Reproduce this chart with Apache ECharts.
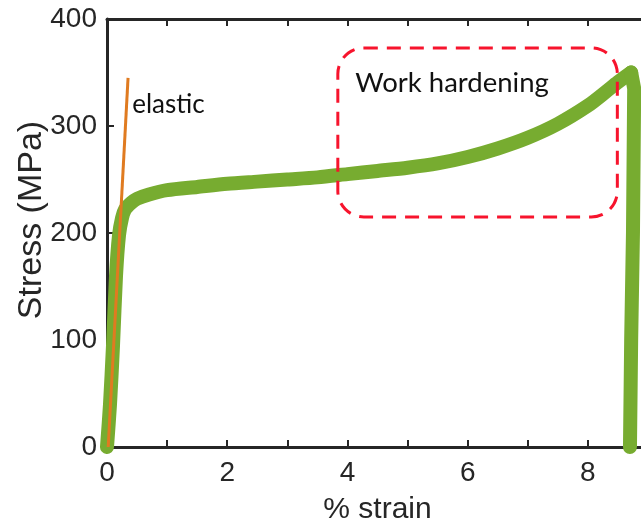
<!DOCTYPE html>
<html>
<head>
<meta charset="utf-8">
<script src="https://cdn.jsdelivr.net/npm/echarts@6/dist/echarts.min.js"></script>
<style>
  html, body { margin: 0; padding: 0; background: #fff; }
  #chart { width: 641px; height: 531px; }
</style>
</head>
<body>
<div id="chart"></div>
<script>
// Stress-strain curve (strain in %, stress in MPa)
const strain = [0, 0.05, 0.1, 0.15, 0.2, 0.25, 0.3, 0.4, 0.5, 0.7, 1.0, 1.5, 2.0, 2.5, 3.0, 3.5, 4.0, 4.5, 5.0, 5.5, 6.0, 6.5, 7.0, 7.5, 8.0, 8.3, 8.5, 8.72, 8.77, 8.75, 8.72, 8.70];
const stress = [0, 40, 95, 160, 198, 214, 222, 228, 232, 236, 240, 243, 246, 248, 250, 252, 255, 258, 261, 265, 271, 279, 289, 302, 319, 332, 341, 350, 335, 200, 100, 0];
// index of the peak (ultimate stress), where loading ends and the fracture drop begins
const peakIndex = 27;

// Linear elastic reference line
const elasticStrain = [0.02, 0.35];
const elasticStress = [0, 345];

// Axis ticks
const xTickLabels = [0, 2, 4, 6, 8];
const yTickLabels = [0, 100, 200, 300, 400];

// Work-hardening region outline (data units)
const boxStrain = [3.84, 8.49];
const boxStress = [215, 373];

const ink = '#262626';
const green = '#77ac30';
const axisFont = 'Liberation Sans, Arial, Helvetica, sans-serif';
const noteFont = 'Lato, "Open Sans", sans-serif';

const chart = echarts.init(document.getElementById('chart'));

const xBase = {
  type: 'value', min: 0, max: 9, interval: 1,
  axisLine: { show: true, onZero: false, lineStyle: { color: ink, width: 3 } },
  axisTick: { show: true, inside: true, length: 7, lineStyle: { color: ink, width: 2 } },
  splitLine: { show: false }
};

const points = strain.map((x, i) => [x, stress[i]]);
const greenLine = { color: green, width: 14, cap: 'round', join: 'round' };

chart.setOption({
  animation: false,
  grid: { left: 107, width: 541, top: 19, height: 428, containLabel: false, outerBoundsMode: 'none' },
  xAxis: [
    Object.assign({}, xBase, {
      position: 'bottom',
      name: '% strain', nameLocation: 'middle', nameGap: 48,
      nameTextStyle: { color: ink, fontSize: 30, fontFamily: axisFont },
      axisLabel: {
        color: ink, fontSize: 28, fontFamily: axisFont, margin: 12,
        formatter: v => (xTickLabels.indexOf(v) >= 0 ? String(v) : '')
      }
    }),
    Object.assign({}, xBase, { position: 'top', axisLabel: { show: false } })
  ],
  yAxis: [{
    type: 'value', min: 0, max: 400, interval: 100,
    name: 'Stress (MPa)', nameLocation: 'middle', nameGap: 58, nameMoveOverlap: false,
    nameTextStyle: { color: ink, fontSize: 34, fontFamily: axisFont, padding: [0, 0, 0, 26] },
    axisLine: { show: true, lineStyle: { color: ink, width: 3 } },
    axisTick: { show: true, inside: true, length: 7, lineStyle: { color: ink, width: 2 } },
    axisLabel: {
      color: ink, fontSize: 28, fontFamily: axisFont, margin: 10,
      formatter: v => (yTickLabels.indexOf(v) >= 0 ? String(v) : '')
    },
    splitLine: { show: false }
  }],
  series: [
    {
      // loading: elastic rise, yield and work hardening up to the peak
      type: 'line', data: points.slice(0, peakIndex + 1),
      smooth: 0.25, symbol: 'none', clip: false,
      lineStyle: greenLine, z: 3
    },
    {
      // fracture: sudden drop after the peak
      type: 'line', data: points.slice(peakIndex),
      smooth: false, symbol: 'none', clip: false,
      lineStyle: greenLine, z: 3
    },
    {
      type: 'line', data: elasticStrain.map((x, i) => [x, elasticStress[i]]),
      symbol: 'none', clip: false,
      lineStyle: { color: '#e07b20', width: 3 },
      z: 4
    }
  ]
});

// Annotations placed in data coordinates
function drawNotes() {
  const p0 = chart.convertToPixel({ gridIndex: 0 }, [boxStrain[0], boxStress[1]]);
  const p1 = chart.convertToPixel({ gridIndex: 0 }, [boxStrain[1], boxStress[0]]);
  const elasticAt = chart.convertToPixel({ gridIndex: 0 }, [0.42, 320]);
  const hardAt = chart.convertToPixel({ gridIndex: 0 }, [4.13, 340]);
  chart.setOption({
    graphic: [
      {
        type: 'rect', z: 10,
        shape: { x: p0[0], y: p0[1], width: p1[0] - p0[0], height: p1[1] - p0[1], r: 26 },
        style: { fill: 'none', stroke: '#f7142d', lineWidth: 3, lineDash: [14, 9] }
      },
      {
        type: 'text', z: 10, x: elasticAt[0], y: elasticAt[1],
        style: { text: 'elastic', fill: '#111', font: '26px ' + noteFont, textVerticalAlign: 'middle' }
      },
      {
        type: 'text', z: 10, x: hardAt[0], y: hardAt[1],
        style: { text: 'Work hardening', fill: '#111', font: '27.5px ' + noteFont, textVerticalAlign: 'middle' }
      }
    ]
  });
}
drawNotes();
</script>
</body>
</html>
